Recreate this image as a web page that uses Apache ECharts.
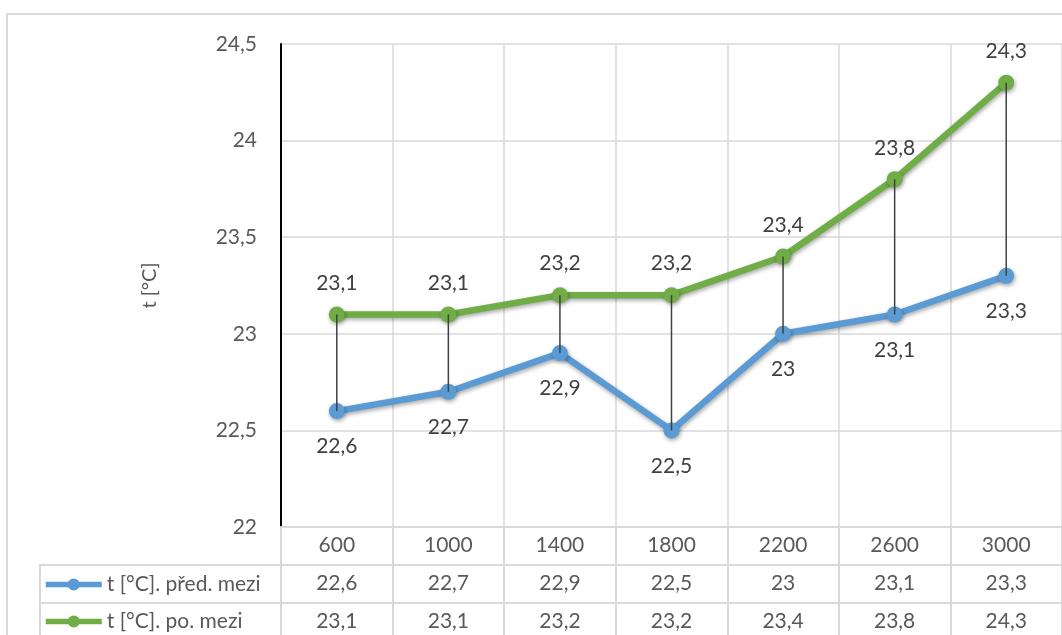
<!DOCTYPE html>
<html>
<head>
<meta charset="utf-8">
<script src="https://cdn.jsdelivr.net/npm/echarts@6/dist/echarts.min.js"></script>
<style>
  html, body { margin: 0; padding: 0; background: #fff; }
  #chart { width: 1062px; height: 635px; }
</style>
</head>
<body>
<div id="chart"></div>
<script>
// Otáčky (kategorie) a teploty před a po mezi
const categories = ['600', '1000', '1400', '1800', '2200', '2600', '3000'];
const tPred = [22.6, 22.7, 22.9, 22.5, 23, 23.1, 23.3];
const tPo = [23.1, 23.1, 23.2, 23.2, 23.4, 23.8, 24.3];
const namePred = 't [°C]. před. mezi';
const namePo = 't [°C]. po. mezi';
const yTicks = { min: 22, max: 24.5, step: 0.5 };

const FONT = 'Lato';
const TXT = '#595959';
const GRID = '#d9d9d9';
const BLUE = '#5b9bd5';
const GREEN = '#70ad47';

const fmt = v => String(v).replace('.', ',');

const chart = echarts.init(document.getElementById('chart'));

const lineShadow = {
  shadowColor: 'rgba(0,0,0,0.35)',
  shadowBlur: 4,
  shadowOffsetX: 1,
  shadowOffsetY: 2
};

const tableAxis = (values, offset) => ({
  type: 'category',
  gridIndex: 0,
  position: 'bottom',
  offset: offset,
  data: values.map(fmt),
  axisLine: { show: true, lineStyle: { color: GRID, width: 2 } },
  axisTick: { show: false },
  splitLine: { show: false },
  axisLabel: { color: TXT, fontFamily: FONT, fontSize: 21, margin: 8, interval: 0 }
});

// klíč legendy v levé části tabulky, jeden řádek na sérii
const legendRow = (name, top) => ({
  data: [name],
  orient: 'horizontal',
  left: 43,
  top: top,
  padding: 0,
  itemWidth: 56,
  itemHeight: 15,
  itemGap: 0,
  lineStyle: { width: 5.5 },
  textStyle: { color: TXT, fontFamily: FONT, fontSize: 21 }
});

chart.setOption({
  animation: false,
  textStyle: { fontFamily: FONT },
  grid: { left: 281, top: 44, right: -1, bottom: 108, containLabel: false },
  legend: [legendRow(namePred, 574), legendRow(namePo, 611)],
  xAxis: [
    {
      type: 'category',
      data: categories,
      boundaryGap: true,
      axisLine: { show: true, lineStyle: { color: GRID, width: 2 } },
      axisTick: { show: true, length: 110, interval: 0, lineStyle: { color: GRID, width: 2 } },
      splitLine: { show: true, interval: 0, lineStyle: { color: GRID, width: 1.5 } },
      axisLabel: { color: TXT, fontFamily: FONT, fontSize: 21, margin: 8, interval: 0 }
    },
    tableAxis(tPred, 38),
    tableAxis(tPo, 76)
  ],
  yAxis: {
    type: 'value',
    min: yTicks.min,
    max: yTicks.max,
    interval: yTicks.step,
    name: 't [°C]',
    nameLocation: 'middle',
    nameRotate: 90,
    nameGap: 121,
    nameTextStyle: { color: TXT, fontFamily: FONT, fontSize: 20 },
    axisLine: { show: true, lineStyle: { color: '#000', width: 2 } },
    axisTick: { show: false },
    splitLine: { show: true, lineStyle: { color: GRID, width: 1.5 } },
    axisLabel: { color: TXT, fontFamily: FONT, fontSize: 21, margin: 24, formatter: v => fmt(v) }
  },
  series: [
    {
      name: namePred,
      type: 'line',
      data: tPred,
      symbol: 'circle',
      symbolSize: 16,
      lineStyle: Object.assign({ color: BLUE, width: 6.5 }, lineShadow),
      itemStyle: Object.assign({ color: BLUE }, lineShadow),
      label: {
        show: true, position: 'bottom', distance: 17,
        color: '#404040', fontFamily: FONT, fontSize: 21,
        formatter: p => fmt(p.value)
      },
      z: 2
    },
    {
      name: namePo,
      type: 'line',
      data: tPo,
      symbol: 'circle',
      symbolSize: 16,
      lineStyle: Object.assign({ color: GREEN, width: 6.5 }, lineShadow),
      itemStyle: Object.assign({ color: GREEN }, lineShadow),
      label: {
        show: true, position: 'top', distance: 13,
        color: '#404040', fontFamily: FONT, fontSize: 21,
        formatter: p => fmt(p.value)
      },
      z: 2
    },
    {
      // spojnice maxima a minima v každé kategorii
      type: 'custom',
      data: categories.map((c, i) => [i, tPred[i], tPo[i]]),
      encode: { x: 0, y: [1, 2] },
      renderItem: (params, api) => {
        const lo = api.coord([api.value(0), api.value(1)]);
        const hi = api.coord([api.value(0), api.value(2)]);
        return {
          type: 'line',
          shape: { x1: lo[0], y1: lo[1], x2: hi[0], y2: hi[1] },
          style: { stroke: '#404040', lineWidth: 1.5 }
        };
      },
      silent: true,
      z: 5
    }
  ],
  graphic: [
    // rámeček grafu
    { type: 'rect', shape: { x: 7, y: 14, width: 1200, height: 800 },
      style: { fill: 'none', stroke: GRID, lineWidth: 2 }, silent: true },
    // levá část tabulky s legendou
    { type: 'line', shape: { x1: 40, y1: 565, x2: 281, y2: 565 }, style: { stroke: GRID, lineWidth: 2 } },
    { type: 'line', shape: { x1: 40, y1: 603, x2: 281, y2: 603 }, style: { stroke: GRID, lineWidth: 2 } },
    { type: 'line', shape: { x1: 40, y1: 564, x2: 40, y2: 640 }, style: { stroke: GRID, lineWidth: 2 } }
  ]
});
</script>
</body>
</html>
